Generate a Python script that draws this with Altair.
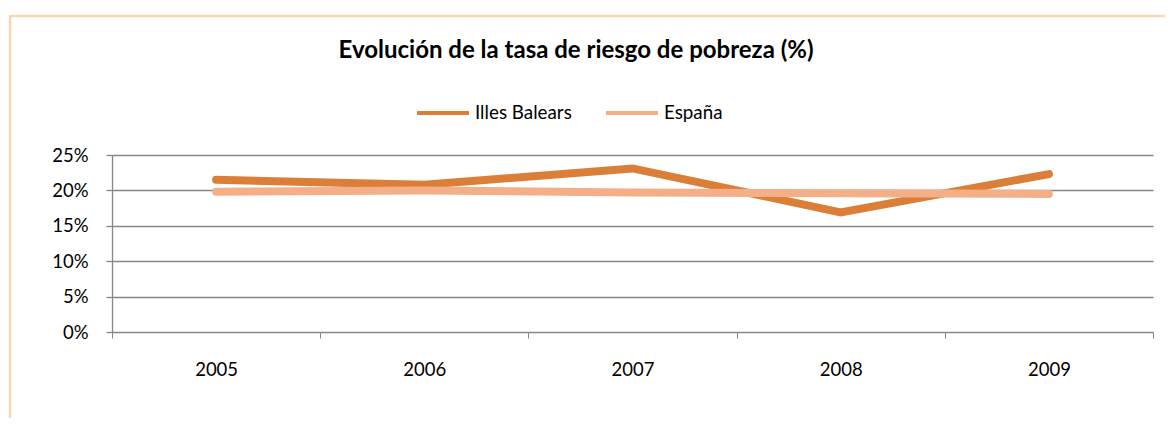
import altair as alt
import pandas as pd

years = ["2005", "2006", "2007", "2008", "2009"]
balears = [0.215, 0.208, 0.231, 0.169, 0.223]
espana = [0.198, 0.200, 0.197, 0.196, 0.195]
series = ["Illes Balears", "España"]
colors = ["#DB7F38", "#F5AF88"]
y_ticks = [0, 0.05, 0.10, 0.15, 0.20, 0.25]
title = "Evolución de la tasa de riesgo de pobreza (%)"

rows = []
for y, v in zip(years, balears):
    rows.append({"year": y, "value": v, "serie": series[0]})
for y, v in zip(years, espana):
    rows.append({"year": y, "value": v, "serie": series[1]})
df = pd.DataFrame(rows)

FONT = "Lato"
GRID = "#868686"
LBL = 18.5

x_enc = alt.X(
    "year:O",
    scale=alt.Scale(type="band", paddingInner=0, paddingOuter=0),
    bandPosition=0.5,
    axis=alt.Axis(
        title=None, labelAngle=0, tickBand="extent", grid=False,
        domainColor=GRID, tickColor=GRID, tickSize=6, labelPadding=22,
        labelFontSize=LBL, labelFont=FONT, labelColor="#000000",
    ),
)
y_enc = alt.Y(
    "value:Q",
    scale=alt.Scale(domain=[0, 0.25], nice=False),
    axis=alt.Axis(
        title=None, values=y_ticks, format=".0%", grid=True, gridColor=GRID,
        gridWidth=1.3, domainColor=GRID, domainWidth=1.3, tickColor=GRID,
        tickWidth=1.3, tickSize=6,
        labelPadding=18, labelFontSize=LBL, labelFont=FONT, labelColor="#000000",
    ),
)

lines = alt.Chart(df).mark_line(strokeWidth=8, strokeCap="round").encode(
    x=x_enc,
    y=y_enc,
    color=alt.Color(
        "serie:N",
        scale=alt.Scale(domain=series, range=colors),
        sort=series,
        legend=alt.Legend(
            title=None, orient="none", legendX=303, legendY=-70,
            direction="horizontal", symbolType="stroke", symbolStrokeWidth=4,
            symbolSize=2704, labelFontSize=18.8, labelFont=FONT,
            labelColor="#000000", columnPadding=26, labelOffset=4,
        ),
    ),
    order=alt.Order("serie:N", sort="descending"),
)

title_df = pd.DataFrame({"t": [title]})
title_mark = alt.Chart(title_df).mark_text(
    font=FONT, fontSize=24, fontWeight="bold", color="#000000",
    baseline="alphabetic", align="center",
).encode(text="t:N", x=alt.value(464), y=alt.value(-97))

frame = alt.Chart(title_df).mark_rect(
    fill=None, stroke="#FCD5B5", strokeWidth=2.5
).encode(x=alt.value(-102), x2=alt.value(1090), y=alt.value(-139), y2=alt.value(300))

topline = alt.Chart(title_df).mark_rule(
    stroke="#FCD5B5", strokeWidth=2.5
).encode(x=alt.value(-112), x2=alt.value(1070), y=alt.value(-154))

chart = alt.layer(frame, topline, title_mark, lines).properties(
    width=1041, height=177,
    autosize=alt.AutoSizeParams(type="none"),
    padding={"left": 104, "top": 147, "right": 12, "bottom": 86},
).configure_view(stroke=None)

chart.save("out.html", embed_options={"renderer": "svg", "actions": False})
